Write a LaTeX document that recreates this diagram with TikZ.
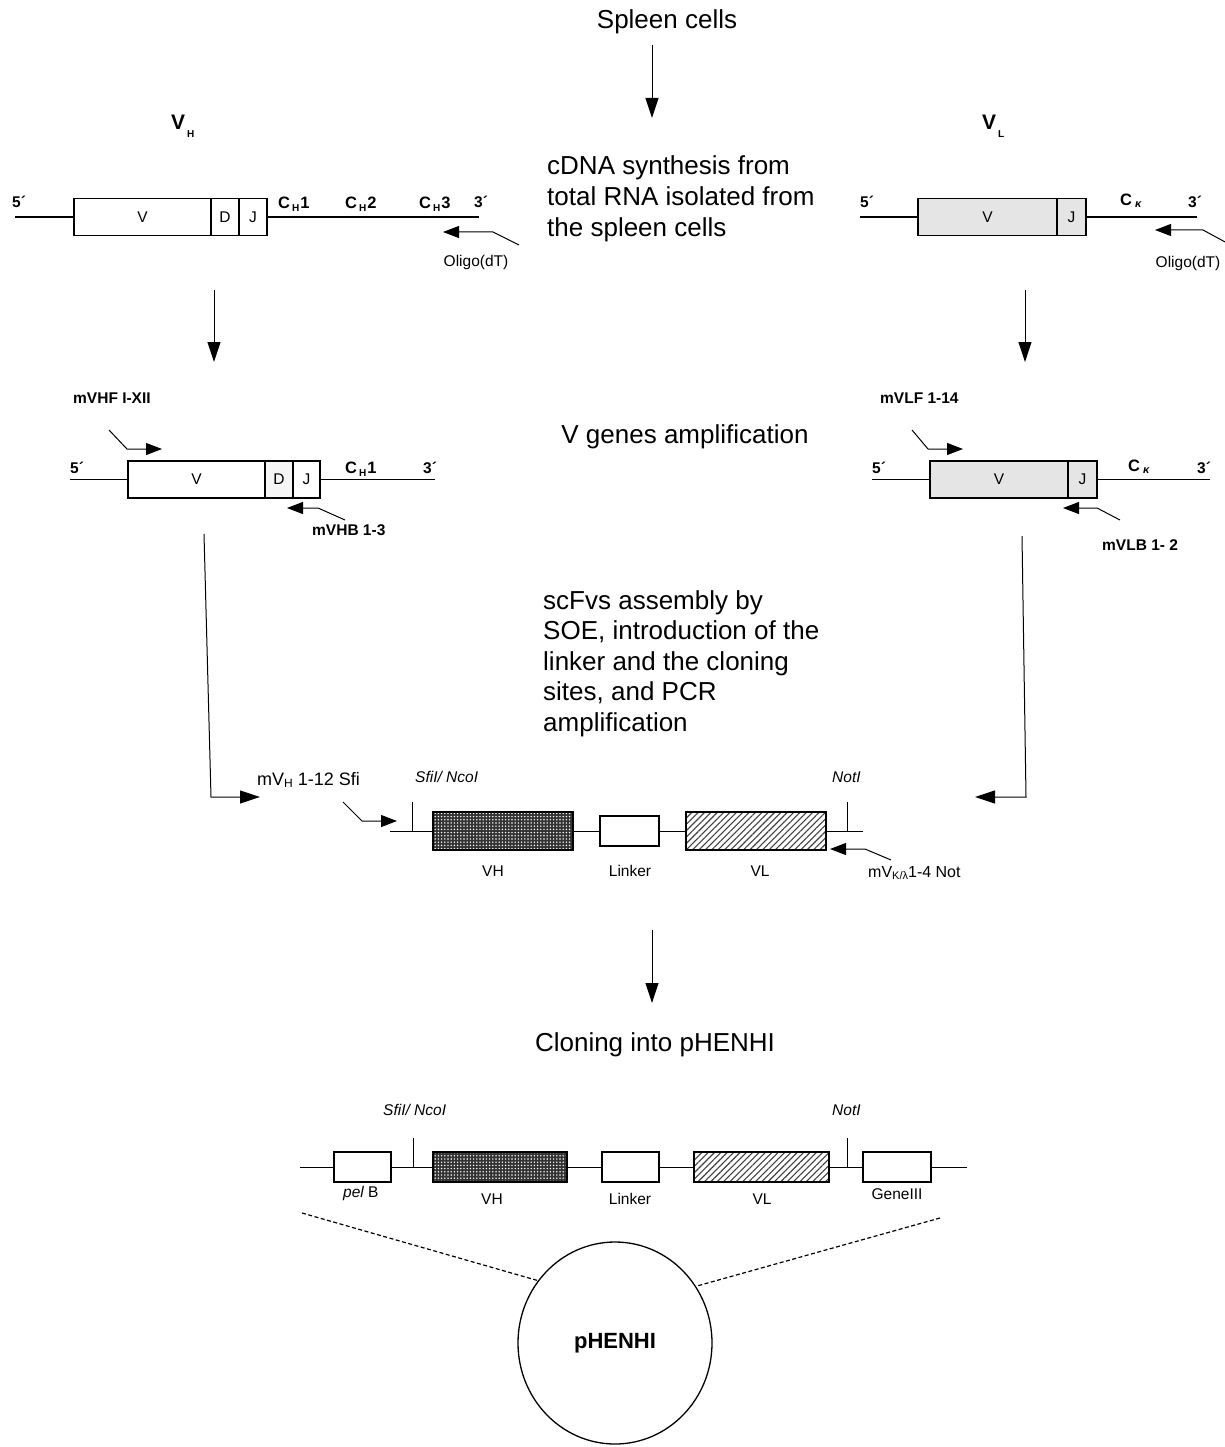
\documentclass[tikz,border=0pt]{standalone}
\usepackage{fontspec}
\setmainfont{Liberation Sans}
\usetikzlibrary{arrows.meta,patterns.meta,shapes.geometric}
\newcommand\lowsub[3]{\raisebox{-#1}{\fontsize{#2}{#2}\selectfont #3}}
\begin{document}
\begin{tikzpicture}[x=1pt,y=-1pt,
  big/.style={font=\fontsize{26}{31}\selectfont, inner sep=0, align=left},
  lbl/.style={font=\fontsize{15.5}{18}\selectfont, inner sep=0},
  lblb/.style={font=\fontsize{15.5}{18}\selectfont\bfseries, inner sep=0},
  lbli/.style={font=\fontsize{15.5}{18}\selectfont\itshape, inner sep=0},
  clab/.style={font=\fontsize{16.5}{18}\selectfont\bfseries, inner sep=0},
  gline/.style={line width=1.3pt},
  gbox/.style={draw, line width=1.3pt, inner sep=0, font=\fontsize{15.5}{18}\selectfont},
  vgray/.style={fill=black!10},
  dgray/.style={fill=black!4},
  vhfill/.style={preaction={fill=black!80}, pattern={Dots[distance=3.2pt, radius=0.8pt]}, pattern color=white},
  vlfill/.style={pattern={Lines[angle=45,distance=4.5pt,line width=1.1pt]}, pattern color=black!75},
  tickl/.style={line width=1pt},
  flow/.style={line width=1pt, -{Triangle[length=20pt,width=13pt]}},
  primer/.style={line width=1pt, -{Triangle[length=16pt,width=12pt]}},
  dashl/.style={line width=1.2pt, dash pattern=on 4pt off 2.5pt}
]
\fill[white] (0,0) rectangle (1225,1447);
\useasboundingbox (0,0) rectangle (1225,1447);

% ---------- top ----------
\node[big] (spleen) at (667,22) {Spleen cells};
\coordinate (f1a) at (652,45);
\coordinate (f1b) at (652,118);
\draw[flow] (f1a) -- (f1b);
\node[big, anchor=north west] (cdna) at (547,155) {cDNA synthesis from\\total RNA isolated from\\the spleen cells};

% ---------- row 1 left (VH) ----------
\node[anchor=base west, inner sep=0, font=\fontsize{21}{21}\selectfont\bfseries] (vhhead) at (171,130) {V\kern2pt\lowsub{8pt}{10}{H}};
\coordinate (r1l0) at (15,217);
\node[gbox, minimum width=137pt, minimum height=37pt] (r1lV) at (142.5,217) {V};
\node[gbox, minimum width=28pt, minimum height=37pt] (r1lD) at (225,217) {D};
\node[gbox, minimum width=28pt, minimum height=37pt] (r1lJ) at (253,217) {J};
\coordinate (r1l1) at (479,217);
\draw[gline] (r1l0) -- (r1lV.west);
\draw[gline] (r1lJ.east) -- (r1l1);
\node[lblb, anchor=base west] (r1l5) at (12,208) {5´};
\node[clab, anchor=base west] (r1lc1) at (278,209) {C\kern2pt\lowsub{3pt}{10}{H}\kern1pt 1};
\node[clab, anchor=base west] (r1lc2) at (345,209) {C\kern2pt\lowsub{3pt}{10}{H}\kern1pt 2};
\node[clab, anchor=base west] (r1lc3) at (419,209) {C\kern2pt\lowsub{3pt}{10}{H}\kern1pt 3};
\node[lblb, anchor=base west] (r1l3) at (474,208) {3´};
\coordinate (o1a) at (519,245);
\coordinate (o1b) at (493,232);
\coordinate (o1c) at (443,232);
\draw[primer] (o1a) -- (o1b) -- (o1c);
\node[lbl] (o1t) at (476,262) {Oligo(dT)};

% ---------- row 1 right (VL) ----------
\node[anchor=base west, inner sep=0, font=\fontsize{21}{21}\selectfont\bfseries] (vlhead) at (982,130) {V\kern2pt\lowsub{8pt}{10}{L}};
\coordinate (r1r0) at (860,217);
\node[gbox, vgray, minimum width=139pt, minimum height=37pt] (r1rV) at (987.5,217) {V};
\node[gbox, vgray, minimum width=29pt, minimum height=37pt] (r1rJ) at (1071.5,217) {J};
\coordinate (r1r1) at (1197,217);
\draw[gline] (r1r0) -- (r1rV.west);
\draw[gline] (r1rJ.east) -- (r1r1);
\node[lblb, anchor=base west] (r1r5) at (860,208) {5´};
\node[clab, anchor=base west] (r1rc) at (1120,206) {C\kern3pt\lowsub{2pt}{11}{\itshape κ}};
\node[lblb, anchor=base west] (r1r3) at (1188,208) {3´};
\coordinate (o2a) at (1227,243);
\coordinate (o2b) at (1203,230);
\coordinate (o2c) at (1155,230);
\draw[primer] (o2a) -- (o2b) -- (o2c);
\node[lbl] (o2t) at (1188,263) {Oligo(dT)};

% down arrows
\coordinate (f2a) at (214,290);
\coordinate (f2b) at (214,362);
\draw[flow] (f2a) -- (f2b);
\coordinate (f3a) at (1025,290);
\coordinate (f3b) at (1025,362);
\draw[flow] (f3a) -- (f3b);

\node[big] (vgenes) at (685,437) {V genes amplification};

% ---------- row 2 left ----------
\node[lblb, anchor=base west] (mvhf) at (73,403) {mVHF I-XII};
\coordinate (p1a) at (109,430);
\coordinate (p1b) at (127,449);
\coordinate (p1c) at (162,449);
\draw[primer] (p1a) -- (p1b) -- (p1c);
\coordinate (r2l0) at (70,479.5);
\node[gbox, minimum width=137pt, minimum height=37pt] (r2lV) at (196.5,479.5) {V};
\node[gbox, dgray, minimum width=28pt, minimum height=37pt] (r2lD) at (279,479.5) {D};
\node[gbox, minimum width=27pt, minimum height=37pt] (r2lJ) at (306.5,479.5) {J};
\coordinate (r2l1) at (435,479.5);
\draw[gline] (r2l0) -- (r2lV.west);
\draw[gline] (r2lJ.east) -- (r2l1);
\node[lblb, anchor=base west] (r2l5) at (70,473) {5´};
\node[clab, anchor=base west] (r2lc1) at (345,473) {C\kern2pt\lowsub{3pt}{10}{H}\kern1pt 1};
\node[lblb, anchor=base west] (r2l3) at (423,473) {3´};
\coordinate (p2a) at (345,520);
\coordinate (p2b) at (318,508);
\coordinate (p2c) at (287,508);
\draw[primer] (p2a) -- (p2b) -- (p2c);
\node[lblb, anchor=base west] (mvhb) at (312,535) {mVHB 1-3};

% ---------- row 2 right ----------
\node[lblb, anchor=base west] (mvlf) at (880,403) {mVLF 1-14};
\coordinate (p3a) at (912,430);
\coordinate (p3b) at (928,449);
\coordinate (p3c) at (963,449);
\draw[primer] (p3a) -- (p3b) -- (p3c);
\coordinate (r2r0) at (872,479.5);
\node[gbox, vgray, minimum width=138pt, minimum height=37pt] (r2rV) at (999,479.5) {V};
\node[gbox, vgray, minimum width=29pt, minimum height=37pt] (r2rJ) at (1082.5,479.5) {J};
\coordinate (r2r1) at (1210,479.5);
\draw[gline] (r2r0) -- (r2rV.west);
\draw[gline] (r2rJ.east) -- (r2r1);
\node[lblb, anchor=base west] (r2r5) at (872,473) {5´};
\node[clab, anchor=base west] (r2rc) at (1128,471) {C\kern3pt\lowsub{2pt}{11}{\itshape κ}};
\node[lblb, anchor=base west] (r2r3) at (1197,473) {3´};
\coordinate (p4a) at (1120,520);
\coordinate (p4b) at (1097,508);
\coordinate (p4c) at (1063,508);
\draw[primer] (p4a) -- (p4b) -- (p4c);
\node[lblb, anchor=base west] (mvlb) at (1102,550) {mVLB 1- 2};

% long connectors
\coordinate (c1a) at (204,534);
\coordinate (c1b) at (211,797);
\coordinate (c1c) at (260,797);
\draw[flow] (c1a) -- (c1b) -- (c1c);
\coordinate (c2a) at (1022,536);
\coordinate (c2b) at (1026,797);
\coordinate (c2c) at (975,797);
\draw[flow] (c2a) -- (c2b) -- (c2c);

\node[big, anchor=north west, font=\fontsize{26}{30.5}\selectfont] (scfv) at (543,590) {scFvs assembly by\\SOE, introduction of the\\linker and the cloning\\sites, and PCR\\amplification};

% ---------- scFv construct ----------
\node[anchor=base west, inner sep=0, font=\fontsize{18}{18}\selectfont] (mvh112) at (257,785) {mV\lowsub{2.5pt}{12}{H} 1-12 Sfi};
\node[lbli, anchor=base west] (sfi1) at (415,782) {SfiI/ NcoI};
\node[lbli, anchor=base west] (not1) at (832,782) {NotI};
\coordinate (p5a) at (343,802);
\coordinate (p5b) at (362,821);
\coordinate (p5c) at (397,821);
\draw[primer] (p5a) -- (p5b) -- (p5c);
\coordinate (m0) at (390,831);
\node[gbox, vhfill, minimum width=140pt, minimum height=38pt] (mVH) at (503,831) {};
\node[gbox, minimum width=59pt, minimum height=30pt] (mLk) at (629.5,831) {};
\node[gbox, vlfill, minimum width=140pt, minimum height=38pt] (mVL) at (756,831) {};
\coordinate (m1) at (863,831);
\draw[tickl] (m0) -- (mVH.west);
\draw[tickl] (mVH.east) -- (mLk.west);
\draw[tickl] (mLk.east) -- (mVL.west);
\draw[tickl] (mVL.east) -- (m1);
\coordinate (t1a) at (412,831);
\coordinate (t1b) at (412,802);
\draw[tickl] (t1a) -- (t1b);
\coordinate (t2a) at (847,831);
\coordinate (t2b) at (847,802);
\draw[tickl] (t2a) -- (t2b);
\coordinate (p6a) at (891,860);
\coordinate (p6b) at (865,849);
\coordinate (p6c) at (830,849);
\draw[primer] (p6a) -- (p6b) -- (p6c);
\node[anchor=base west, inner sep=0, font=\fontsize{16}{16}\selectfont] (mvkl) at (868,877) {mV\lowsub{2.5pt}{11}{K/λ}1-4 Not};
\node[lbl, anchor=base] (mVHt) at (493,876) {VH};
\node[lbl, anchor=base] (mLkt) at (630,876) {Linker};
\node[lbl, anchor=base] (mVLt) at (760,876) {VL};

\coordinate (f4a) at (652,930);
\coordinate (f4b) at (652,1003);
\draw[flow] (f4a) -- (f4b);
\node[big] (cloning) at (655,1045) {Cloning into pHENHI};

% ---------- pHENHI construct ----------
\node[lbli, anchor=base west] (sfi2) at (383,1115) {SfiI/ NcoI};
\node[lbli, anchor=base west] (not2) at (832,1115) {NotI};
\coordinate (b0) at (300,1167);
\node[gbox, minimum width=57pt, minimum height=30pt] (bPel) at (362.5,1167) {};
\node[gbox, vhfill, minimum width=134pt, minimum height=30pt] (bVH) at (500,1167) {};
\node[gbox, minimum width=57pt, minimum height=30pt] (bLk) at (630.5,1167) {};
\node[gbox, vlfill, minimum width=135pt, minimum height=30pt] (bVL) at (761.5,1167) {};
\node[gbox, minimum width=68pt, minimum height=30pt] (bG3) at (897,1167) {};
\coordinate (b1) at (967,1167);
\draw[tickl] (b0) -- (bPel.west);
\draw[tickl] (bPel.east) -- (bVH.west);
\draw[tickl] (bVH.east) -- (bLk.west);
\draw[tickl] (bLk.east) -- (bVL.west);
\draw[tickl] (bVL.east) -- (bG3.west);
\draw[tickl] (bG3.east) -- (b1);
\coordinate (t3a) at (413,1167);
\coordinate (t3b) at (413,1138);
\draw[tickl] (t3a) -- (t3b);
\coordinate (t4a) at (847,1167);
\coordinate (t4b) at (847,1138);
\draw[tickl] (t4a) -- (t4b);
\node[lbl, anchor=base west] (pelt) at (343,1197) {\itshape pel\upshape\ B};
\node[lbl, anchor=base] (bVHt) at (492,1204) {VH};
\node[lbl, anchor=base] (bLkt) at (630,1204) {Linker};
\node[lbl, anchor=base] (bVLt) at (762,1204) {VL};
\node[lbl, anchor=base] (bG3t) at (897,1199) {GeneIII};

% plasmid
\node[draw, ellipse, line width=1.3pt, minimum width=194pt, minimum height=202pt, inner sep=0,
      font=\fontsize{22}{22}\selectfont\bfseries] (plasmid) at (615,1343) {pHENHI};
\coordinate (d1) at (302,1213);
\coordinate (d2) at (940,1218);
\draw[dashl] (d1) -- (plasmid.141);
\draw[dashl] (d2) -- (plasmid.35);
\end{tikzpicture}
\end{document}
